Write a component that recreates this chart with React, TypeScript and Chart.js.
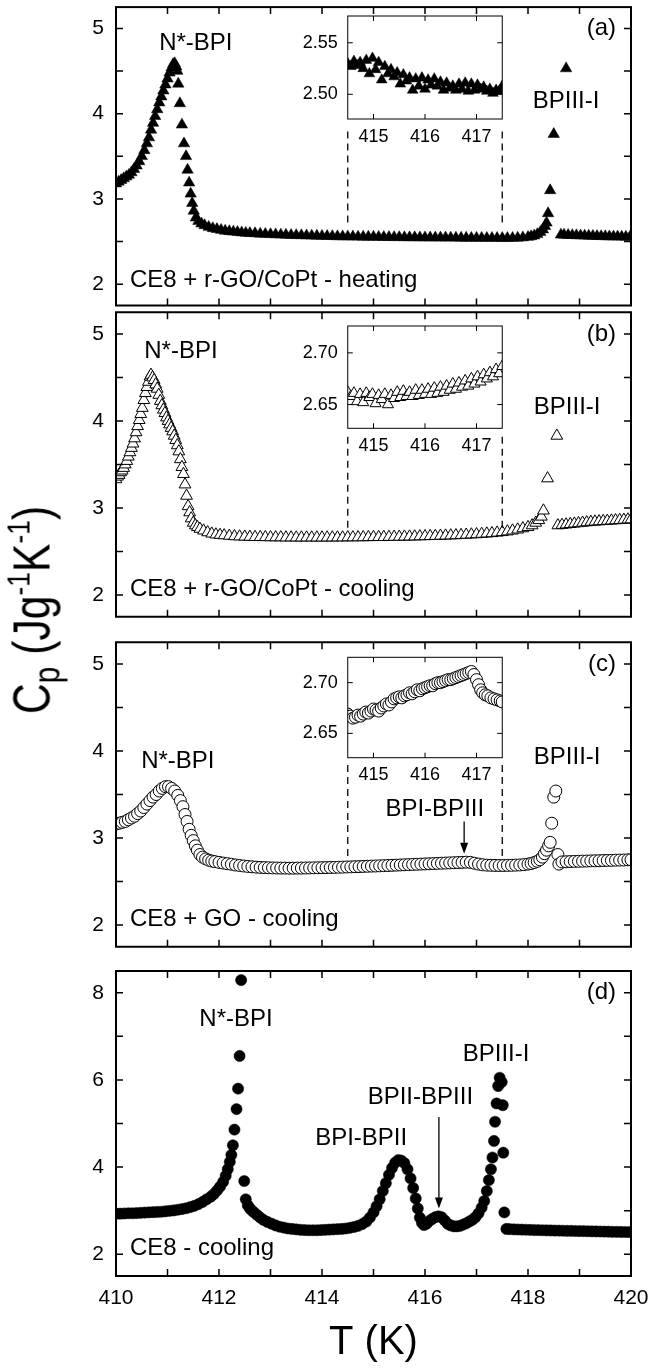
import React, { useEffect, useRef } from "react";
import { Chart, registerables } from "chart.js";

Chart.register(...registerables);

const W = 648;
const H = 1368;
const FONT = '"Liberation Sans", Arial, Helvetica, sans-serif';

// ---------------- data (T in K, Cp in J g^-1 K^-1) ----------------
// (a) CE8 + r-GO/CoPt - heating
const heatRGO: [number, number][] = [
  [410.00, 3.18], [410.05, 3.20], [410.10, 3.22], [410.15, 3.24], [410.20, 3.26], [410.25, 3.28],
  [410.30, 3.31], [410.35, 3.35], [410.40, 3.39], [410.45, 3.44], [410.50, 3.50], [410.55, 3.57],
  [410.60, 3.65], [410.64, 3.72], [410.68, 3.81], [410.72, 3.89], [410.76, 3.97], [410.80, 4.05],
  [410.84, 4.13], [410.88, 4.20], [410.92, 4.27], [410.96, 4.34], [411.00, 4.41], [411.04, 4.48],
  [411.08, 4.54], [411.11, 4.58], [411.14, 4.59], [411.17, 4.55], [411.19, 4.50],
  [411.21, 4.35], [411.24, 4.12], [411.28, 3.87], [411.32, 3.65], [411.36, 3.50], [411.39, 3.34],
  [411.42, 3.19], [411.45, 3.06], [411.48, 2.95], [411.51, 2.86], [411.55, 2.78],
  [411.60, 2.74], [411.66, 2.71], [411.72, 2.69], [411.80, 2.67], [411.88, 2.655], [411.96, 2.645],
  [412.04, 2.635], [412.12, 2.625], [412.20, 2.62], [412.28, 2.615], [412.36, 2.61], [412.44, 2.605],
  [412.52, 2.60], [412.60, 2.598], [412.70, 2.595], [412.80, 2.59], [412.90, 2.588], [413.00, 2.585],
  [413.10, 2.583], [413.20, 2.58], [413.30, 2.578], [413.40, 2.576], [413.50, 2.574], [413.60, 2.572],
  [413.70, 2.57], [413.80, 2.568], [413.90, 2.566], [414.00, 2.565], [414.10, 2.563], [414.20, 2.562],
  [414.30, 2.56], [414.40, 2.559], [414.50, 2.558], [414.60, 2.557], [414.70, 2.556], [414.80, 2.555],
  [414.90, 2.555], [415.00, 2.554], [415.10, 2.553], [415.20, 2.552], [415.30, 2.551], [415.40, 2.55],
  [415.50, 2.55], [415.60, 2.549], [415.70, 2.548], [415.80, 2.548], [415.90, 2.547], [416.00, 2.547],
  [416.10, 2.546], [416.20, 2.546], [416.30, 2.545], [416.40, 2.545], [416.50, 2.544], [416.60, 2.544],
  [416.70, 2.543], [416.80, 2.543], [416.90, 2.542], [417.00, 2.542], [417.10, 2.542], [417.20, 2.541],
  [417.30, 2.541], [417.40, 2.541], [417.50, 2.54], [417.60, 2.54], [417.70, 2.541], [417.80, 2.543],
  [417.90, 2.547], [418.00, 2.553], [418.06, 2.56], [418.12, 2.57], [418.18, 2.585], [418.24, 2.61],
  [418.29, 2.64], [418.33, 2.68], [418.36, 2.72], [418.39, 2.83], [418.43, 3.10], [418.50, 3.76],
  [418.74, 4.53],
  [418.64, 2.58], [418.70, 2.578], [418.78, 2.576], [418.86, 2.574], [418.94, 2.572], [419.02, 2.57],
  [419.10, 2.568], [419.18, 2.566], [419.26, 2.565], [419.34, 2.563], [419.42, 2.562], [419.50, 2.56],
  [419.58, 2.559], [419.66, 2.558], [419.74, 2.557], [419.82, 2.556], [419.90, 2.555], [419.98, 2.554],
];

// (b) CE8 + r-GO/CoPt - cooling
const coolRGO: [number, number][] = [
  [410.00, 3.33], [410.03, 3.36], [410.06, 3.38], [410.09, 3.41], [410.12, 3.43], [410.15, 3.46],
  [410.18, 3.50], [410.21, 3.54], [410.24, 3.59], [410.27, 3.64], [410.30, 3.69], [410.33, 3.74],
  [410.36, 3.80], [410.39, 3.87], [410.42, 3.94], [410.45, 4.01], [410.48, 4.08], [410.51, 4.15],
  [410.54, 4.24], [410.57, 4.32], [410.60, 4.39], [410.63, 4.45], [410.66, 4.51], [410.68, 4.53],
  [410.71, 4.50], [410.74, 4.47], [410.77, 4.42], [410.80, 4.37], [410.83, 4.30], [410.86, 4.23],
  [410.89, 4.18], [410.92, 4.13], [410.95, 4.09], [410.98, 4.04], [411.01, 4.00], [411.04, 3.96],
  [411.07, 3.92], [411.10, 3.88], [411.13, 3.83], [411.16, 3.78], [411.19, 3.72], [411.22, 3.65],
  [411.25, 3.56], [411.28, 3.47], [411.31, 3.39], [411.34, 3.27], [411.37, 3.14], [411.40, 3.02],
  [411.43, 2.95], [411.46, 2.88], [411.50, 2.83], [411.54, 2.80], [411.58, 2.78], [411.63, 2.76],
  [411.70, 2.74], [411.78, 2.72], [411.86, 2.705], [411.94, 2.695], [412.02, 2.69], [412.10, 2.685],
  [412.20, 2.68], [412.30, 2.675], [412.40, 2.672], [412.50, 2.67], [412.60, 2.668], [412.70, 2.666],
  [412.80, 2.665], [412.90, 2.664], [413.00, 2.663], [413.10, 2.662], [413.20, 2.662], [413.30, 2.661],
  [413.40, 2.661], [413.50, 2.66], [413.60, 2.66], [413.70, 2.66], [413.80, 2.66], [413.90, 2.66],
  [414.00, 2.66], [414.10, 2.66], [414.20, 2.66], [414.30, 2.661], [414.40, 2.661], [414.50, 2.662],
  [414.60, 2.662], [414.70, 2.663], [414.80, 2.663], [414.90, 2.664], [415.00, 2.665], [415.10, 2.665],
  [415.20, 2.666], [415.30, 2.667], [415.40, 2.668], [415.50, 2.669], [415.60, 2.67], [415.70, 2.671],
  [415.80, 2.672], [415.90, 2.674], [416.00, 2.675], [416.10, 2.677], [416.20, 2.678], [416.30, 2.68],
  [416.40, 2.682], [416.50, 2.684], [416.60, 2.686], [416.70, 2.689], [416.80, 2.692], [416.90, 2.695],
  [417.00, 2.698], [417.10, 2.702], [417.20, 2.706], [417.30, 2.71], [417.40, 2.716], [417.50, 2.722],
  [417.60, 2.73], [417.70, 2.74], [417.80, 2.752], [417.90, 2.766], [418.00, 2.78], [418.08, 2.80],
  [418.15, 2.83], [418.21, 2.86], [418.26, 2.90], [418.30, 2.97], [418.38, 3.34], [418.56, 3.83],
  [418.58, 2.80], [418.66, 2.805], [418.74, 2.81], [418.82, 2.815], [418.90, 2.82], [418.98, 2.825],
  [419.06, 2.83], [419.14, 2.835], [419.22, 2.84], [419.30, 2.843], [419.38, 2.846], [419.46, 2.849],
  [419.54, 2.852], [419.62, 2.855], [419.70, 2.858], [419.78, 2.861], [419.86, 2.864], [419.94, 2.867],
  [420.00, 2.869],
];

// (c) CE8 + GO - cooling
const coolGO: [number, number][] = [
  [410.00, 3.16], [410.06, 3.17], [410.12, 3.18], [410.18, 3.19], [410.24, 3.21], [410.30, 3.23],
  [410.36, 3.25], [410.42, 3.28], [410.48, 3.31], [410.54, 3.35], [410.60, 3.39], [410.66, 3.43],
  [410.72, 3.47], [410.78, 3.50], [410.84, 3.54], [410.90, 3.57], [410.96, 3.59], [411.02, 3.59],
  [411.08, 3.57], [411.14, 3.54], [411.20, 3.49], [411.25, 3.43], [411.30, 3.36], [411.34, 3.27],
  [411.38, 3.19], [411.42, 3.10], [411.46, 3.03], [411.50, 2.97], [411.54, 2.91], [411.58, 2.86],
  [411.63, 2.81], [411.68, 2.78], [411.74, 2.76], [411.80, 2.745], [411.86, 2.735], [411.92, 2.728],
  [412.00, 2.72], [412.08, 2.712], [412.16, 2.705], [412.24, 2.698], [412.32, 2.69], [412.40, 2.684],
  [412.48, 2.678], [412.56, 2.673], [412.64, 2.669], [412.72, 2.665], [412.80, 2.662], [412.88, 2.66],
  [412.96, 2.658], [413.04, 2.656], [413.12, 2.655], [413.20, 2.654], [413.28, 2.654], [413.36, 2.653],
  [413.44, 2.653], [413.52, 2.654], [413.60, 2.654], [413.68, 2.655], [413.76, 2.656], [413.84, 2.657],
  [413.92, 2.658], [414.00, 2.659], [414.08, 2.66], [414.16, 2.661], [414.24, 2.662], [414.32, 2.664],
  [414.40, 2.665], [414.48, 2.667], [414.56, 2.668], [414.64, 2.67], [414.72, 2.671], [414.80, 2.673],
  [414.88, 2.675], [414.96, 2.677], [415.04, 2.678], [415.12, 2.68], [415.20, 2.682], [415.28, 2.684],
  [415.36, 2.686], [415.44, 2.688], [415.52, 2.69], [415.60, 2.692], [415.68, 2.694], [415.76, 2.696],
  [415.84, 2.698], [415.92, 2.70], [416.00, 2.702], [416.08, 2.704], [416.16, 2.706], [416.24, 2.708],
  [416.32, 2.71], [416.40, 2.712], [416.48, 2.714], [416.56, 2.716], [416.64, 2.718], [416.72, 2.72],
  [416.80, 2.722], [416.88, 2.72], [416.96, 2.71], [417.04, 2.70], [417.12, 2.692], [417.20, 2.688],
  [417.28, 2.686], [417.36, 2.685], [417.44, 2.684], [417.52, 2.684], [417.60, 2.685], [417.68, 2.686],
  [417.76, 2.688], [417.84, 2.69], [417.92, 2.694], [418.00, 2.70], [418.06, 2.707], [418.12, 2.718],
  [418.18, 2.732], [418.23, 2.75], [418.28, 2.78], [418.32, 2.82], [418.36, 2.86], [418.40, 2.91],
  [418.43, 2.95], [418.46, 3.17], [418.50, 3.47], [418.54, 3.54], [418.58, 2.81], [418.60, 2.70],
  [418.66, 2.725], [418.74, 2.727], [418.82, 2.729], [418.90, 2.731], [418.98, 2.732], [419.06, 2.734],
  [419.14, 2.735], [419.22, 2.737], [419.30, 2.738], [419.38, 2.739], [419.46, 2.741], [419.54, 2.742],
  [419.62, 2.743], [419.70, 2.745], [419.78, 2.746], [419.86, 2.747], [419.94, 2.749], [420.00, 2.75],
];

// (d) CE8 - cooling
const coolCE8: [number, number][] = [
  [410.00, 2.93], [410.08, 2.93], [410.16, 2.935], [410.24, 2.94], [410.32, 2.94], [410.40, 2.945],
  [410.48, 2.95], [410.56, 2.955], [410.64, 2.96], [410.72, 2.965], [410.80, 2.97], [410.88, 2.975],
  [410.96, 2.985], [411.04, 2.995], [411.12, 3.005], [411.20, 3.02], [411.28, 3.035], [411.36, 3.055],
  [411.44, 3.08], [411.52, 3.11], [411.60, 3.15], [411.68, 3.20], [411.76, 3.26], [411.84, 3.32],
  [411.90, 3.38], [411.96, 3.46], [412.02, 3.55], [412.08, 3.66], [412.13, 3.80], [412.17, 3.95],
  [412.21, 4.12], [412.24, 4.28], [412.27, 4.50], [412.30, 4.86], [412.34, 5.33], [412.37, 5.80],
  [412.40, 6.55], [412.43, 8.29], [412.49, 3.68], [412.52, 3.26], [412.56, 3.12], [412.60, 3.05],
  [412.64, 3.00], [412.68, 2.96], [412.74, 2.90], [412.80, 2.84], [412.86, 2.79], [412.94, 2.74],
  [413.02, 2.70], [413.10, 2.66], [413.18, 2.63], [413.26, 2.61], [413.34, 2.59], [413.42, 2.58],
  [413.50, 2.57], [413.58, 2.56], [413.66, 2.555], [413.74, 2.55], [413.82, 2.55], [413.90, 2.55],
  [413.98, 2.555], [414.06, 2.56], [414.14, 2.565], [414.22, 2.57], [414.30, 2.575], [414.38, 2.58],
  [414.46, 2.59], [414.54, 2.605], [414.62, 2.625], [414.70, 2.65], [414.78, 2.69], [414.86, 2.75],
  [414.93, 2.84], [415.00, 2.96], [415.06, 3.10], [415.12, 3.26], [415.18, 3.45], [415.24, 3.63],
  [415.30, 3.82], [415.36, 3.98], [415.42, 4.10], [415.48, 4.16], [415.54, 4.15], [415.60, 4.09],
  [415.66, 3.95], [415.72, 3.74], [415.77, 3.52], [415.82, 3.28], [415.86, 3.05], [415.90, 2.84],
  [415.94, 2.72], [415.98, 2.67], [416.03, 2.70], [416.08, 2.76], [416.14, 2.81], [416.20, 2.85],
  [416.26, 2.87], [416.32, 2.85], [416.38, 2.78], [416.44, 2.70], [416.50, 2.66], [416.56, 2.64],
  [416.62, 2.64], [416.68, 2.65], [416.74, 2.68], [416.80, 2.71], [416.86, 2.75], [416.92, 2.79],
  [416.98, 2.85], [417.04, 2.94], [417.10, 3.07], [417.15, 3.22], [417.20, 3.45], [417.24, 3.70],
  [417.28, 3.95], [417.31, 4.22], [417.34, 4.60], [417.36, 5.04], [417.39, 5.46], [417.42, 5.86],
  [417.45, 6.05], [417.49, 5.95], [417.51, 5.42], [417.52, 4.33], [417.54, 2.96], [417.58, 2.58],
  [417.64, 2.575], [417.72, 2.57], [417.80, 2.567], [417.88, 2.564], [417.96, 2.561], [418.04, 2.558],
  [418.12, 2.555], [418.20, 2.552], [418.28, 2.55], [418.36, 2.548], [418.44, 2.545], [418.52, 2.543],
  [418.60, 2.541], [418.68, 2.539], [418.76, 2.537], [418.84, 2.535], [418.92, 2.533], [419.00, 2.531],
  [419.08, 2.529], [419.16, 2.527], [419.24, 2.525], [419.32, 2.523], [419.40, 2.521], [419.48, 2.519],
  [419.56, 2.517], [419.64, 2.515], [419.72, 2.513], [419.80, 2.511], [419.88, 2.51], [419.96, 2.509],
];

// insets (zoom of 414.5 - 417.5 K)
const insetHeatRGO: [number, number][] = [
  [414.50, 2.530], [414.56, 2.527], [414.62, 2.532], [414.68, 2.528], [414.74, 2.531], [414.80, 2.525],
  [414.86, 2.533], [414.92, 2.520], [414.98, 2.535], [415.04, 2.524], [415.10, 2.531], [415.16, 2.514],
  [415.22, 2.527], [415.28, 2.520], [415.34, 2.524], [415.40, 2.517], [415.46, 2.521], [415.52, 2.510],
  [415.58, 2.519], [415.64, 2.513], [415.70, 2.516], [415.76, 2.504], [415.82, 2.515], [415.88, 2.508],
  [415.94, 2.516], [416.00, 2.505], [416.06, 2.514], [416.12, 2.509], [416.18, 2.515], [416.24, 2.508],
  [416.30, 2.512], [416.36, 2.504], [416.42, 2.511], [416.48, 2.506], [416.54, 2.508], [416.60, 2.504],
  [416.66, 2.510], [416.72, 2.505], [416.78, 2.511], [416.84, 2.503], [416.90, 2.510], [416.96, 2.504],
  [417.02, 2.509], [417.08, 2.505], [417.14, 2.507], [417.20, 2.503], [417.26, 2.505], [417.32, 2.501],
  [417.38, 2.504], [417.44, 2.503], [417.50, 2.508],
];

const insetCoolRGO: [number, number][] = [
  [414.50, 2.662], [414.56, 2.658], [414.62, 2.661], [414.68, 2.653], [414.74, 2.660], [414.80, 2.652],
  [414.86, 2.661], [414.92, 2.657], [414.98, 2.660], [415.04, 2.651], [415.10, 2.659], [415.16, 2.655],
  [415.22, 2.660], [415.28, 2.650], [415.34, 2.659], [415.40, 2.656], [415.46, 2.662], [415.52, 2.657],
  [415.58, 2.663], [415.64, 2.658], [415.70, 2.662], [415.76, 2.658], [415.82, 2.664], [415.88, 2.659],
  [415.94, 2.664], [416.00, 2.660], [416.06, 2.665], [416.12, 2.660], [416.18, 2.666], [416.24, 2.661],
  [416.30, 2.667], [416.36, 2.662], [416.42, 2.668], [416.48, 2.664], [416.54, 2.670], [416.60, 2.665],
  [416.66, 2.671], [416.72, 2.667], [416.78, 2.673], [416.84, 2.668], [416.90, 2.675], [416.96, 2.670],
  [417.02, 2.677], [417.08, 2.672], [417.14, 2.679], [417.20, 2.675], [417.26, 2.681], [417.32, 2.677],
  [417.38, 2.684], [417.44, 2.680], [417.50, 2.687],
];

const insetCoolGO: [number, number][] = [
  [414.50, 2.669], [414.55, 2.667], [414.60, 2.665], [414.65, 2.666], [414.70, 2.668], [414.75, 2.667],
  [414.80, 2.669], [414.85, 2.671], [414.90, 2.670], [414.95, 2.672], [415.00, 2.674], [415.05, 2.673],
  [415.10, 2.672], [415.15, 2.675], [415.20, 2.677], [415.25, 2.679], [415.30, 2.678], [415.35, 2.681],
  [415.40, 2.684], [415.45, 2.685], [415.50, 2.686], [415.55, 2.685], [415.60, 2.687], [415.65, 2.688],
  [415.70, 2.690], [415.75, 2.689], [415.80, 2.691], [415.85, 2.693], [415.90, 2.692], [415.95, 2.694],
  [416.00, 2.695], [416.05, 2.696], [416.10, 2.697], [416.15, 2.697], [416.20, 2.699], [416.25, 2.700],
  [416.30, 2.700], [416.35, 2.701], [416.40, 2.702], [416.45, 2.703], [416.50, 2.703], [416.55, 2.704],
  [416.60, 2.705], [416.65, 2.706], [416.70, 2.707], [416.75, 2.708], [416.80, 2.709], [416.85, 2.710],
  [416.90, 2.711], [416.95, 2.708], [417.00, 2.703], [417.04, 2.698], [417.08, 2.693], [417.12, 2.690],
  [417.17, 2.688], [417.22, 2.687], [417.28, 2.685], [417.34, 2.684], [417.40, 2.683], [417.46, 2.682],
  [417.50, 2.681],
];

// ---------------- ticks ----------------
const xLabelTicks = [410, 412, 414, 416, 418, 420];
const xTickMarks = [411, 412, 413, 414, 415, 416, 417, 418, 419];
const yLabelTicksABC = [2, 3, 4, 5];
const yTickMarksABC = [2, 2.5, 3, 3.5, 4, 4.5, 5];
const yLabelTicksD = [2, 4, 6, 8];
const yTickMarksD = [2, 3, 4, 5, 6, 7, 8];
const insetXTicks = [415, 416, 417];
const insetYTicksA = [2.5, 2.55];
const insetYTicksBC = [2.65, 2.7];

// ---------------- panel layout ----------------
type Label = { text: string; x: number; y: number; align: CanvasTextAlign };
type Panel = {
  key: string;
  rect: [number, number, number, number];
  xMin: number; xMax: number; yMin: number; yMax: number;
  data: [number, number][];
  marker: "triFill" | "triOpen" | "circOpen" | "circFill";
  radius: number;
  yTicks: number[]; yMarks: number[]; xMarks: number[];
  xLabels?: number[];
  xTitle?: string;
  inset?: boolean;
  decimals?: number;
  labels: Label[];
  dashes?: [number, number, number][];
  arrows?: [number, number, number][];
};

const PANELS: Panel[] = [
  {
    key: "a", rect: [116, 1, 631, 305.5], xMin: 410, xMax: 420, yMin: 1.75, yMax: 5.25,
    data: heatRGO, marker: "triFill", radius: 6.6,
    yTicks: yLabelTicksABC, yMarks: yTickMarksABC, xMarks: xTickMarks,
    labels: [
      { text: "N*-BPI", x: 411.55, y: 4.82, align: "center" },
      { text: "BPIII-I", x: 418.74, y: 4.14, align: "center" },
      { text: "CE8 + r-GO/CoPt - heating", x: 410.27, y: 2.05, align: "left" },
      { text: "(a)", x: 419.71, y: 5.0, align: "right" },
    ],
    dashes: [[414.5, 3.79, 2.71], [417.5, 3.79, 2.71]],
  },
  {
    key: "ia", rect: [347.75, 16, 502.25, 119], xMin: 414.5, xMax: 417.5, yMin: 2.476, yMax: 2.576,
    data: insetHeatRGO, marker: "triFill", radius: 6.2,
    yTicks: insetYTicksA, yMarks: insetYTicksA, xMarks: insetXTicks, xLabels: insetXTicks,
    inset: true, decimals: 2, labels: [],
  },
  {
    key: "b", rect: [116, 312.25, 631, 616.75], xMin: 410, xMax: 420, yMin: 1.75, yMax: 5.25,
    data: coolRGO, marker: "triOpen", radius: 6.8,
    yTicks: yLabelTicksABC, yMarks: yTickMarksABC, xMarks: xTickMarks,
    labels: [
      { text: "N*-BPI", x: 411.26, y: 4.8, align: "center" },
      { text: "BPIII-I", x: 418.76, y: 4.16, align: "center" },
      { text: "CE8 + r-GO/CoPt - cooling", x: 410.27, y: 2.06, align: "left" },
      { text: "(b)", x: 419.71, y: 5.0, align: "right" },
    ],
    dashes: [[414.5, 3.82, 2.77], [417.5, 3.82, 2.77]],
  },
  {
    key: "ib", rect: [347.75, 326, 502.25, 428.3], xMin: 414.5, xMax: 417.5, yMin: 2.627, yMax: 2.726,
    data: insetCoolRGO, marker: "triOpen", radius: 6.4,
    yTicks: insetYTicksBC, yMarks: insetYTicksBC, xMarks: insetXTicks, xLabels: insetXTicks,
    inset: true, decimals: 2, labels: [],
  },
  {
    key: "c", rect: [116, 642.25, 631, 946.75], xMin: 410, xMax: 420, yMin: 1.75, yMax: 5.25,
    data: coolGO, marker: "circOpen", radius: 6,
    yTicks: yLabelTicksABC, yMarks: yTickMarksABC, xMarks: xTickMarks,
    labels: [
      { text: "N*-BPI", x: 411.2, y: 3.885, align: "center" },
      { text: "BPIII-I", x: 418.76, y: 3.93, align: "center" },
      { text: "BPI-BPIII", x: 416.19, y: 3.33, align: "center" },
      { text: "CE8 + GO - cooling", x: 410.27, y: 2.07, align: "left" },
      { text: "(c)", x: 419.71, y: 5.0, align: "right" },
    ],
    dashes: [[414.5, 3.84, 2.79], [417.5, 3.84, 2.79]],
    arrows: [[416.76, 3.19, 2.82]],
  },
  {
    key: "ic", rect: [347.75, 657.3, 502.25, 757.7], xMin: 414.5, xMax: 417.5, yMin: 2.626, yMax: 2.725,
    data: insetCoolGO, marker: "circOpen", radius: 6,
    yTicks: insetYTicksBC, yMarks: insetYTicksBC, xMarks: insetXTicks, xLabels: insetXTicks,
    inset: true, decimals: 2, labels: [],
  },
  {
    key: "d", rect: [116, 971, 631, 1276], xMin: 410, xMax: 420, yMin: 1.5, yMax: 8.5,
    data: coolCE8, marker: "circFill", radius: 5.6,
    yTicks: yLabelTicksD, yMarks: yTickMarksD, xMarks: xTickMarks, xLabels: xLabelTicks,
    xTitle: "T (K)",
    labels: [
      { text: "N*-BPI", x: 412.33, y: 7.4, align: "center" },
      { text: "BPIII-I", x: 417.38, y: 6.59, align: "center" },
      { text: "BPII-BPIII", x: 415.91, y: 5.61, align: "center" },
      { text: "BPI-BPII", x: 414.76, y: 4.67, align: "center" },
      { text: "CE8 - cooling", x: 410.27, y: 2.14, align: "left" },
      { text: "(d)", x: 419.71, y: 8.0, align: "right" },
    ],
    arrows: [[416.27, 5.15, 3.05]],
  },
];

function overlayPlugin(p: Panel) {
  return {
    id: "overlay_" + p.key,
    beforeDatasetsDraw(chart: any) {
      if (!p.inset) return;
      const { ctx, chartArea: a } = chart;
      ctx.save();
      ctx.fillStyle = "#fff";
      ctx.fillRect(a.left, a.top, a.right - a.left, a.bottom - a.top);
      ctx.restore();
    },
    afterDatasetsDraw(chart: any) {
      const { ctx, chartArea: a } = chart;
      const xs = chart.scales.x;
      const ys = chart.scales.y;
      const tick = p.inset ? 5 : 7;
      ctx.save();
      ctx.strokeStyle = "#000";
      ctx.fillStyle = "#000";
      ctx.lineWidth = p.inset ? 1 : 2;
      ctx.strokeRect(a.left, a.top, a.right - a.left, a.bottom - a.top);
      ctx.lineWidth = p.inset ? 1 : 1.5;
      ctx.beginPath();
      for (const v of p.xMarks) {
        const x = xs.getPixelForValue(v);
        ctx.moveTo(x, a.bottom); ctx.lineTo(x, a.bottom - tick);
        ctx.moveTo(x, a.top); ctx.lineTo(x, a.top + tick);
      }
      for (const v of p.yMarks) {
        const y = ys.getPixelForValue(v);
        ctx.moveTo(a.left, y); ctx.lineTo(a.left + tick, y);
        ctx.moveTo(a.right, y); ctx.lineTo(a.right - tick, y);
      }
      ctx.stroke();

      if (p.dashes) {
        ctx.lineWidth = 1.3;
        ctx.setLineDash([7, 5]);
        for (const [xv, y1, y2] of p.dashes) {
          const x = xs.getPixelForValue(xv);
          ctx.beginPath();
          ctx.moveTo(x, ys.getPixelForValue(y1));
          ctx.lineTo(x, ys.getPixelForValue(y2));
          ctx.stroke();
        }
        ctx.setLineDash([]);
      }

      if (p.arrows) {
        ctx.lineWidth = 1.3;
        for (const [xv, yTop, yTip] of p.arrows) {
          const x = xs.getPixelForValue(xv);
          const top = ys.getPixelForValue(yTop);
          const tip = ys.getPixelForValue(yTip);
          const head = 11;
          ctx.beginPath();
          ctx.moveTo(x, top);
          ctx.lineTo(x, tip - head + 2);
          ctx.stroke();
          ctx.beginPath();
          ctx.moveTo(x, tip);
          ctx.lineTo(x - 4, tip - head);
          ctx.lineTo(x + 4, tip - head);
          ctx.closePath();
          ctx.fill();
        }
      }

      ctx.font = `24px ${FONT}`;
      ctx.textBaseline = "middle";
      for (const l of p.labels) {
        ctx.textAlign = l.align;
        ctx.fillText(l.text, xs.getPixelForValue(l.x), ys.getPixelForValue(l.y));
      }
      ctx.restore();
    },
  };
}

function zeroPadding(s: any) {
  s.paddingLeft = 0;
  s.paddingRight = 0;
  s.paddingTop = 0;
  s.paddingBottom = 0;
}

function buildChart(canvas: HTMLCanvasElement, p: Panel) {
  const [L, T, R, B] = p.rect;
  const xAxisH = p.xTitle ? 91 : p.xLabels ? 30 : 0;
  const filled = p.marker === "triFill" || p.marker === "circFill";
  const tickFont = { family: FONT, size: p.inset ? 18 : 21 };
  return new Chart(canvas, {
    type: "scatter",
    data: {
      datasets: [
        {
          data: p.data.map(([x, y]) => ({ x, y })),
          pointStyle: p.marker.startsWith("tri") ? "triangle" : "circle",
          pointRadius: p.radius,
          pointBackgroundColor: filled ? "#000" : "#fff",
          pointBorderColor: "#000",
          pointBorderWidth: filled ? 0.5 : 1,
          showLine: false,
        },
      ],
    },
    options: {
      responsive: false,
      animation: false,
      devicePixelRatio: 1,
      events: [],
      layout: { padding: { left: 0, top: T, right: W - R, bottom: H - B - xAxisH } },
      plugins: { legend: { display: false }, tooltip: { enabled: false } },
      scales: {
        x: {
          type: "linear",
          min: p.xMin,
          max: p.xMax,
          grid: { display: false, drawTicks: false },
          border: { display: false },
          ticks: {
            display: !!p.xLabels,
            font: tickFont,
            color: "#000",
            padding: p.inset ? 7 : 10,
            maxRotation: 0,
            autoSkip: false,
            callback: (v: any) => String(v),
          },
          afterBuildTicks: (s: any) => {
            s.ticks = (p.xLabels || []).map((v) => ({ value: v }));
          },
          afterFit: (s: any) => {
            s.height = xAxisH;
            zeroPadding(s);
          },
          title: {
            display: !!p.xTitle,
            text: p.xTitle || "",
            font: { family: FONT, size: 40 },
            color: "#000",
            padding: 0,
          },
        },
        y: {
          type: "linear",
          min: p.yMin,
          max: p.yMax,
          grid: { display: false, drawTicks: false },
          border: { display: false },
          ticks: {
            font: tickFont,
            color: "#000",
            padding: p.inset ? 10 : 12,
            autoSkip: false,
            callback: (v: any) => (p.decimals ? Number(v).toFixed(p.decimals) : String(v)),
          },
          afterBuildTicks: (s: any) => {
            s.ticks = p.yTicks.map((v) => ({ value: v }));
          },
          afterFit: (s: any) => {
            s.width = L;
            zeroPadding(s);
          },
        },
      },
    } as any,
    plugins: [overlayPlugin(p)],
  });
}

function PanelCanvas({ panel }: { panel: Panel }) {
  const ref = useRef<HTMLCanvasElement | null>(null);
  useEffect(() => {
    const c = ref.current;
    if (!c) return;
    const chart = buildChart(c, panel);
    return () => chart.destroy();
  }, [panel]);
  return (
    <canvas
      ref={ref}
      width={W}
      height={H}
      style={{ position: "absolute", left: 0, top: 0, width: W, height: H }}
    />
  );
}

export default function App() {
  return (
    <div
      style={{
        position: "absolute",
        left: 0,
        top: 0,
        width: W,
        height: H,
        background: "#fff",
        overflow: "hidden",
      }}
    >
      {PANELS.map((p) => (
        <PanelCanvas key={p.key} panel={p} />
      ))}
      <div
        style={{
          position: "absolute",
          left: 34.5,
          top: 609.5,
          transform: "translate(-50%, -50%) rotate(-90deg) scaleX(0.82)",
          fontFamily: FONT,
          fontSize: 52,
          lineHeight: "52px",
          whiteSpace: "nowrap",
          color: "#000",
        }}
      >
        C<span style={{ fontSize: "0.7em", position: "relative", top: "0.28em" }}>p</span> (Jg
        <span style={{ fontSize: "0.62em", position: "relative", top: "-0.62em" }}>-1</span>K
        <span style={{ fontSize: "0.62em", position: "relative", top: "-0.62em" }}>-1</span>)
      </div>
    </div>
  );
}
